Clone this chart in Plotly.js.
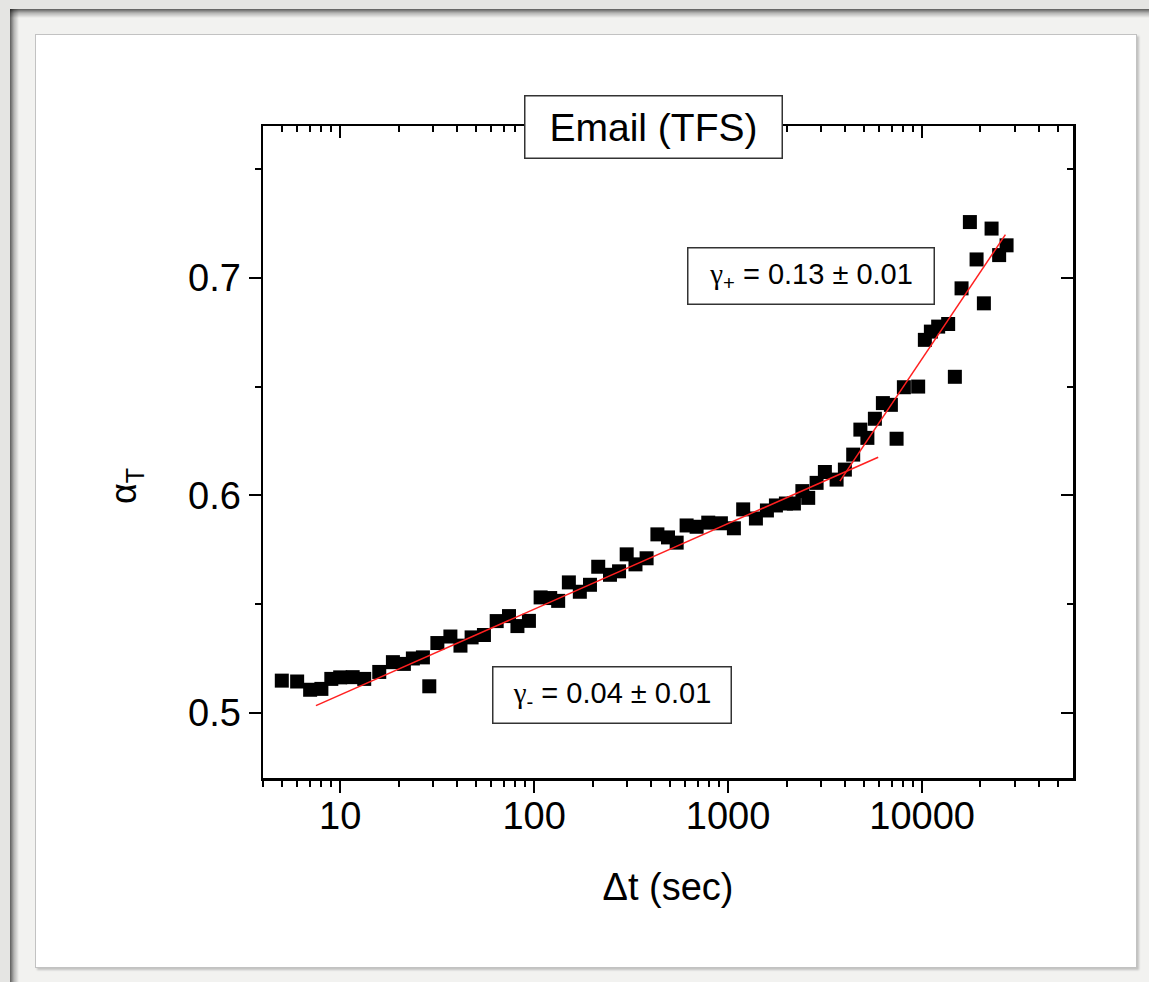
<!DOCTYPE html>
<html>
<head>
<meta charset="utf-8">
<script src="https://cdn.plot.ly/plotly-3.0.1.min.js"></script>
<style>
  html, body { margin: 0; padding: 0; width: 1149px; height: 982px; overflow: hidden; background: #f2f2f0; }
  /* outer strip and cast shadow of the frame along the top and left edges */
  #outerTop  { position: absolute; left: 0; top: 0; width: 1149px; height: 9px; background: #e5e5e3; }
  #outerLeft { position: absolute; left: 0; top: 0; width: 10px; height: 982px; background: #e5e5e3; }
  #shadeTop  { position: absolute; left: 10px; top: 9px; width: 1139px; height: 9px;
               background: linear-gradient(to bottom, rgba(0,0,0,0.62), rgba(0,0,0,0.25) 45%, rgba(0,0,0,0)); }
  #shadeLeft { position: absolute; left: 10px; top: 9px; width: 9px; height: 973px;
               background: linear-gradient(to right, rgba(0,0,0,0.62), rgba(0,0,0,0.25) 45%, rgba(0,0,0,0)); }
  #panel { position: absolute; left: 35px; top: 34px; width: 1100px; height: 932px;
           background: #fff; border: 1px solid #c2c2c2; box-shadow: 2px 2px 2px rgba(0,0,0,0.2); }
  #chart { position: absolute; left: 0; top: 0; width: 1149px; height: 982px; }
</style>
</head>
<body>
<div id="outerTop"></div>
<div id="outerLeft"></div>
<div id="shadeTop"></div>
<div id="shadeLeft"></div>
<div id="panel"></div>
<div id="chart"></div>
<script>
// Inter-event interval (seconds) and the measured exponent alpha_T
const dt = [5, 6, 7, 8, 9, 10, 11.6, 13.3, 15.9, 18.7, 21.3, 23.7, 26.7, 28.8, 31.7, 37.0,
            41.7, 47.6, 55.1, 64.1, 74.2, 82.0, 94.0, 108, 121, 133,
            151, 172, 194, 214, 246, 274, 300, 333, 380, 432,
            490, 543, 611, 688, 790, 918, 1071, 1196, 1391, 1585,
            1764, 1986, 2184, 2415, 2588, 2859, 3155, 3625, 4000, 4415,
            4808, 5225, 5711, 6281, 6906, 7389, 8058, 9548, 10337, 11101,
            12106, 13630, 14760, 15980, 17640, 19100, 20830, 22820, 24970, 27270];
const alphaT = [0.5148, 0.5144, 0.5106, 0.5110, 0.5156, 0.5163, 0.5164, 0.5156, 0.5188, 0.5233, 0.5225, 0.5250, 0.5255, 0.5122, 0.5321, 0.5351,
                0.5309, 0.5347, 0.5358, 0.5422, 0.5445, 0.5399, 0.5423, 0.5531, 0.5528, 0.5515,
                0.5600, 0.5557, 0.5589, 0.5672, 0.5635, 0.5651, 0.5729, 0.5683, 0.5711, 0.5821,
                0.5807, 0.5783, 0.5862, 0.5856, 0.5875, 0.5872, 0.5849, 0.5936, 0.5894, 0.5931,
                0.5954, 0.5963, 0.5963, 0.6020, 0.5989, 0.6058, 0.6108, 0.6073, 0.6119, 0.6188,
                0.6303, 0.6265, 0.6353, 0.6425, 0.6417, 0.6261, 0.6498, 0.6501, 0.6716, 0.6754,
                0.6777, 0.6789, 0.6546, 0.6953, 0.7258, 0.7086, 0.6884, 0.7228, 0.7106, 0.7151];

// Fitted regimes: short-interval (gamma-) and long-interval (gamma+)
const fitLowX = [7.5, 5940];
const fitLowY = [0.5033, 0.6176];
const fitHighX = [3770, 26900];
const fitHighY = [0.6066, 0.7200];

// Tick positions and labels
const xMajor = [10, 100, 1000, 10000];
const xMajorText = ['10', '100', '1000', '10000'];
const xMinor = [4, 5, 6, 7, 8, 9, 20, 30, 40, 50, 60, 70, 80, 90,
                200, 300, 400, 500, 600, 700, 800, 900,
                2000, 3000, 4000, 5000, 6000, 7000, 8000, 9000,
                20000, 30000, 40000, 50000];
const yMajor = [0.5, 0.6, 0.7];
const yMajorText = ['0.5', '0.6', '0.7'];
const yMinor = [0.55, 0.65, 0.75];

const xRange = [Math.log10(4), Math.log10(60000)];
const yRange = [0.47, 0.77];

const FONT = 'Arial, "Liberation Sans", sans-serif';
const GREEK = "font-family:'Liberation Serif','DejaVu Serif',serif";

const traces = [
  { x: dt, y: alphaT, type: 'scatter', mode: 'markers',
    marker: { symbol: 'square', size: 14, color: '#000' }, hoverinfo: 'x+y' },
  { x: fitLowX, y: fitLowY, type: 'scatter', mode: 'lines',
    line: { color: '#ff2020', width: 1.5 }, hoverinfo: 'skip' },
  { x: fitHighX, y: fitHighY, type: 'scatter', mode: 'lines',
    line: { color: '#ff2020', width: 1.5 }, hoverinfo: 'skip' },
  // carrier for the mirrored top/right axes
  { x: [], y: [], xaxis: 'x2', yaxis: 'y2', type: 'scatter', hoverinfo: 'skip' }
];

const axisCommon = { showline: true, linecolor: '#000', linewidth: 2.5, showgrid: false, zeroline: false,
                     tickcolor: '#000', tickwidth: 2 };

const layout = {
  width: 1149, height: 982,
  margin: { l: 263, r: 76, t: 126, b: 204 },
  paper_bgcolor: 'rgba(0,0,0,0)', plot_bgcolor: 'rgba(0,0,0,0)',
  showlegend: false,
  font: { family: FONT, color: '#000' },
  xaxis: Object.assign({}, axisCommon, {
    type: 'log', range: xRange, tickmode: 'array', tickvals: xMajor, ticktext: xMajorText,
    ticks: 'outside', ticklen: 12, tickfont: { size: 38, family: FONT }, ticklabelstandoff: -9,
    minor: { tickmode: 'array', tickvals: xMinor, ticks: 'outside', ticklen: 6, tickwidth: 2, tickcolor: '#000', showgrid: false },
    title: { text: 'Δt (sec)', font: { size: 38, family: FONT }, standoff: 38 }
  }),
  yaxis: Object.assign({}, axisCommon, {
    range: yRange, tickmode: 'array', tickvals: yMajor, ticktext: yMajorText,
    ticks: 'outside', ticklen: 12, tickfont: { size: 38, family: FONT },
    minor: { tickmode: 'array', tickvals: yMinor, ticks: 'outside', ticklen: 6, tickwidth: 2, tickcolor: '#000', showgrid: false }
  }),
  xaxis2: Object.assign({}, axisCommon, {
    type: 'log', range: xRange, overlaying: 'x', side: 'top', anchor: 'y2',
    tickmode: 'array', tickvals: xMajor, ticks: 'inside', ticklen: 12, showticklabels: false,
    minor: { tickmode: 'array', tickvals: xMinor, ticks: 'inside', ticklen: 6, tickwidth: 2, tickcolor: '#000', showgrid: false }
  }),
  yaxis2: Object.assign({}, axisCommon, {
    range: yRange, overlaying: 'y', side: 'right', anchor: 'x2',
    tickmode: 'array', tickvals: yMajor, ticks: 'inside', ticklen: 12, showticklabels: false,
    minor: { tickmode: 'array', tickvals: yMinor, ticks: 'inside', ticklen: 6, tickwidth: 2, tickcolor: '#000', showgrid: false }
  }),
  annotations: [
    { text: 'Email (TFS)', xref: 'paper', yref: 'paper', x: 0.4821, y: 0.9985,
      xanchor: 'center', yanchor: 'middle', showarrow: false,
      font: { size: 39, family: FONT, color: '#000' },
      bgcolor: '#fff', bordercolor: '#333', borderwidth: 1.5, borderpad: 0, width: 256, height: 61 },
    { text: '<span style="' + GREEK + '">γ</span><sub>+</sub> = 0.13 ± 0.01', xref: 'paper', yref: 'paper', x: 0.6765, y: 0.7696,
      xanchor: 'center', yanchor: 'middle', showarrow: false,
      font: { size: 29, family: FONT, color: '#000' },
      bgcolor: '#fff', bordercolor: '#333', borderwidth: 1.5, borderpad: 0, width: 245, height: 55 },
    { text: '<span style="' + GREEK + '">γ</span><sub>-</sub> = 0.04 ± 0.01', xref: 'paper', yref: 'paper', x: 0.4309, y: 0.1275,
      xanchor: 'center', yanchor: 'middle', showarrow: false,
      font: { size: 29, family: FONT, color: '#000' },
      bgcolor: '#fff', bordercolor: '#333', borderwidth: 1.5, borderpad: 0, width: 237, height: 55 },
    { text: 'α<sub>T</sub>', xref: 'paper', yref: 'paper', x: -0.169, y: 0.448,
      xanchor: 'center', yanchor: 'middle', showarrow: false, textangle: -90,
      font: { size: 36, family: FONT, color: '#000' } }
  ]
};

Plotly.newPlot('chart', traces, layout, { staticPlot: true, displayModeBar: false });
</script>
</body>
</html>
